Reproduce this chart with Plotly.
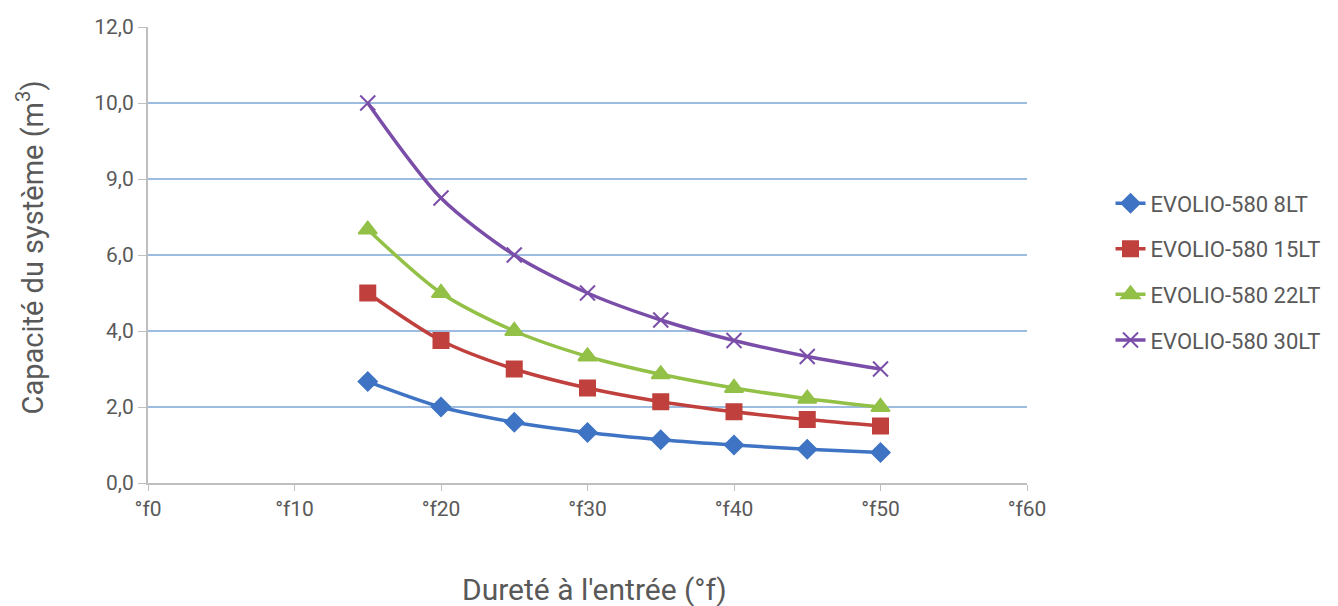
import plotly.graph_objects as go

hardness = [15, 20, 25, 30, 35, 40, 45, 50]
cap_8lt = [2.67, 2.0, 1.6, 1.33, 1.14, 1.0, 0.89, 0.8]
cap_15lt = [5.0, 3.75, 3.0, 2.5, 2.14, 1.875, 1.67, 1.5]
cap_22lt = [6.67, 5.0, 4.0, 3.33, 2.86, 2.5, 2.22, 2.0]
cap_30lt = [10.0, 7.5, 6.0, 5.0, 4.29, 3.75, 3.33, 3.0]

x_tickvals = [0, 10, 20, 30, 40, 50, 60]
x_ticktext = ["°f0", "°f10", "°f20", "°f30", "°f40", "°f50", "°f60"]
y_tickvals = [0, 2, 4, 6, 8, 10, 12]
y_ticktext = ["0,0", "2,0", "4,0", "6,0", "9,0", "10,0", "12,0"]

x_title = "Dureté à l'entrée (°f)"
y_title = "Capacité du système (m<sup>3</sup>)"

series = [
    ("EVOLIO-580 8LT", cap_8lt, "#3F74C4", "diamond", 14),
    ("EVOLIO-580 15LT", cap_15lt, "#C0403D", "square", 15),
    ("EVOLIO-580 22LT", cap_22lt, "#93C047", "triangle-up", 16),
    ("EVOLIO-580 30LT", cap_30lt, "#7A4EA8", "x-thin", 15),
]

fig = go.Figure()
for name, vals, color, sym, size in series:
    fig.add_trace(go.Scatter(
        x=hardness, y=vals, name=name, mode="lines+markers",
        legendgroup=name,
        line=dict(color=color, width=3.5, shape="spline", smoothing=0.8),
        marker=dict(symbol=sym, size=size, color=color,
                    line=dict(color=color, width=2)),
    ))

font = "Roboto, 'Open Sans', sans-serif"
fig.update_layout(
    width=1330, height=598,
    margin=dict(l=140, r=308, t=19, b=123),
    paper_bgcolor="white", plot_bgcolor="white",
    font=dict(family=font, color="#595959", size=20),
    legend=dict(x=1.095, y=0.463, yanchor="middle", xanchor="left",
                font=dict(size=22, color="#595959"), tracegroupgap=14),
    xaxis=dict(range=[0, 60], tickvals=x_tickvals, ticktext=x_ticktext,
               showgrid=False, zeroline=False, showline=True,
               linecolor="#BFBFBF", linewidth=2, ticks="outside",
               tickcolor="#BFBFBF", ticklen=6, automargin=False,
               tickfont=dict(size=21)),
    yaxis=dict(range=[0, 12], tickvals=y_tickvals, ticktext=y_ticktext,
               showgrid=True, gridcolor="#9DBCE0", gridwidth=1.5,
               zeroline=False, showline=True, linecolor="#BFBFBF",
               linewidth=2, ticks="outside", tickcolor="#BFBFBF", ticklen=8,
               automargin=False, tickfont=dict(size=21)),
    annotations=[
        dict(text=x_title, xref="paper", yref="paper", x=0.508, y=-0.2346,
             xanchor="center", yanchor="middle", showarrow=False,
             font=dict(size=30, color="#595959")),
        dict(text=y_title, xref="paper", yref="paper", x=-0.1338, y=0.5175,
             xanchor="center", yanchor="middle", showarrow=False,
             textangle=-90, font=dict(size=29, color="#595959")),
    ],
)

fig.write_html("out.html")
